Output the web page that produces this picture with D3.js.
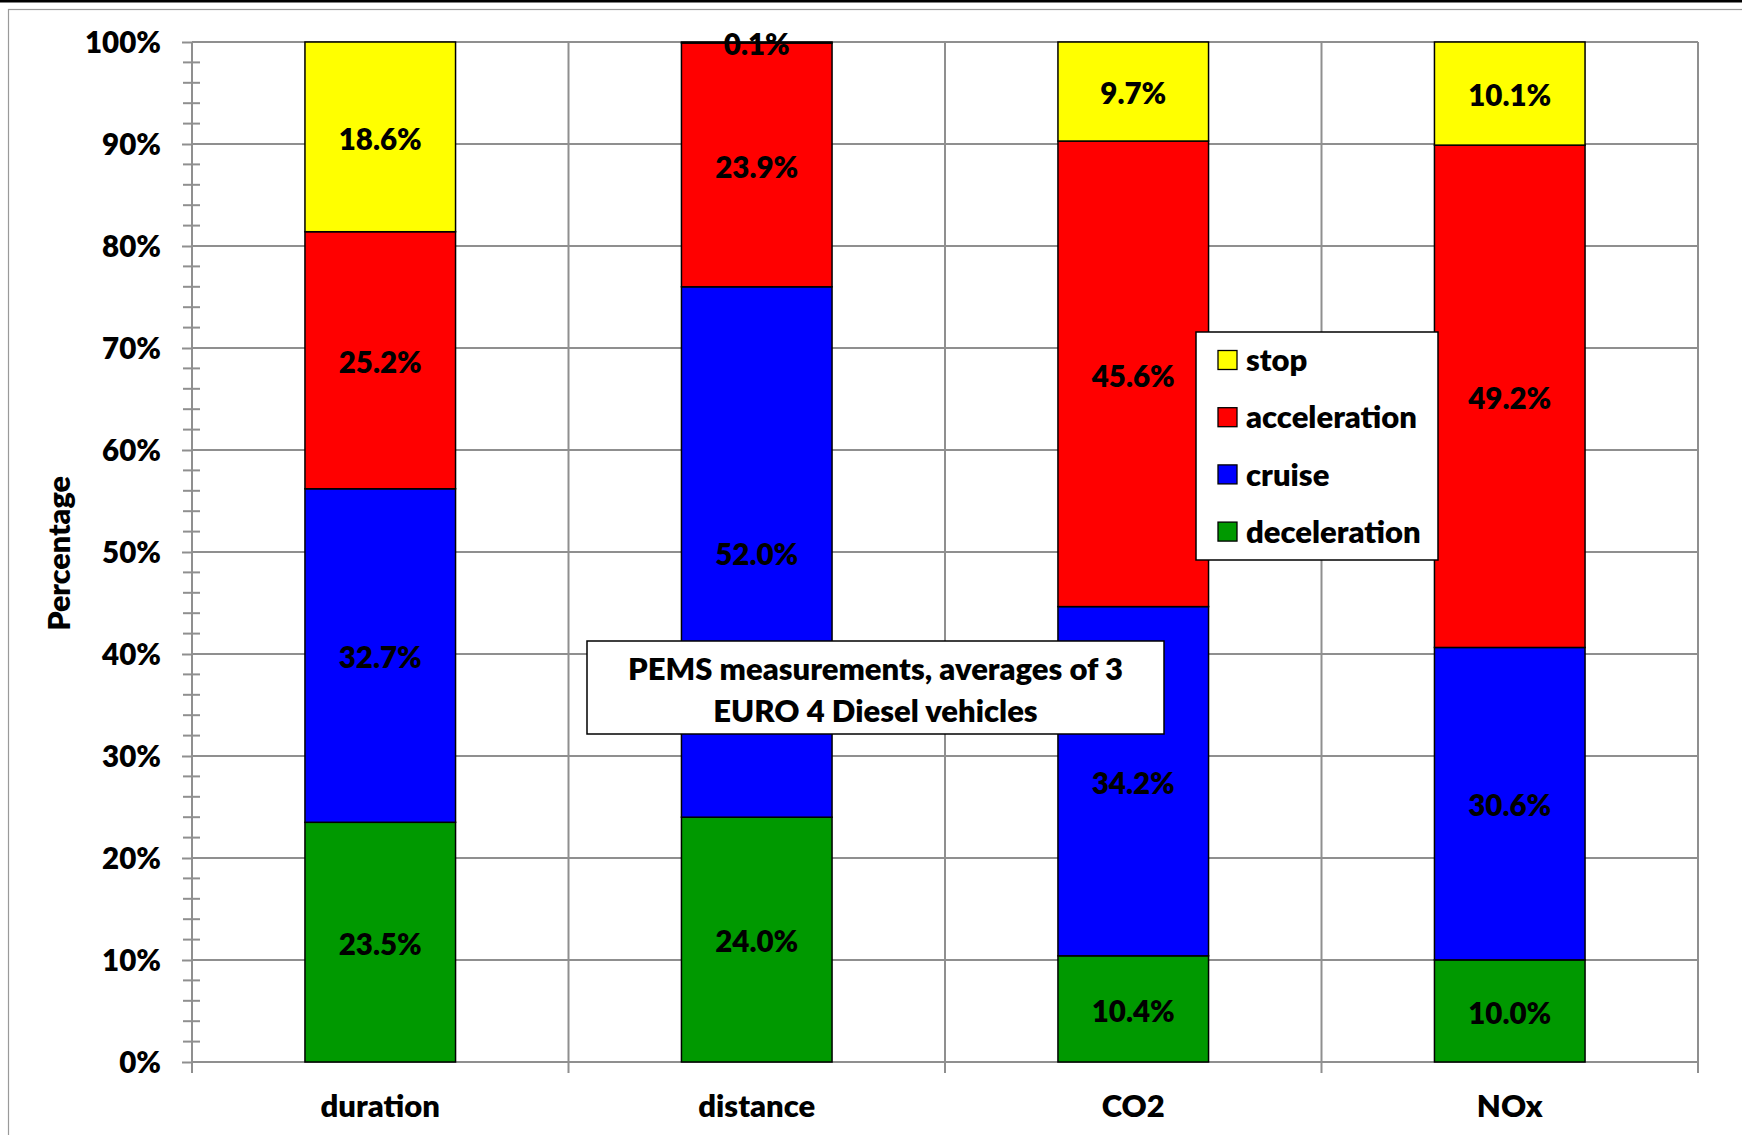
<!DOCTYPE html>
<html>
<head>
<meta charset="utf-8">
<script src="https://cdn.jsdelivr.net/npm/d3@7"></script>
<style>
  html, body { margin: 0; padding: 0; background: #fff; }
  svg { display: block; }
  text { font-family: Lato, "Open Sans", sans-serif; font-weight: 800; fill: #000; }
</style>
</head>
<body>
<svg id="chart" width="1742" height="1135"></svg>
<script>
// Share of each driving mode (percent) per quantity
const categories = ["duration", "distance", "CO2", "NOx"];
const modes = ["deceleration", "cruise", "acceleration", "stop"]; // bottom to top
const deceleration = [23.5, 24.0, 10.4, 10.0];
const cruise = [32.7, 52.0, 34.2, 30.6];
const acceleration = [25.2, 23.9, 45.6, 49.2];
const stop = [18.6, 0.1, 9.7, 10.1];
const legendOrder = ["stop", "acceleration", "cruise", "deceleration"];
const yTickValues = [0, 0.1, 0.2, 0.3, 0.4, 0.5, 0.6, 0.7, 0.8, 0.9, 1.0];
const noteLines = ["PEMS measurements, averages of 3", "EURO 4 Diesel vehicles"];

const modeValues = { deceleration, cruise, acceleration, stop };
const colors = { stop: "#ffff00", acceleration: "#ff0000", cruise: "#0000ff", deceleration: "#009900" };

const rows = categories.map((c, i) => {
  const r = { category: c };
  modes.forEach(m => r[m] = modeValues[m][i]);
  return r;
});

const svg = d3.select("#chart");
const plot = { left: 192, right: 1698, top: 42, bottom: 1062 };
const gridColor = "#8f8f8f";
const FW = 800;

// Outer frame
svg.append("rect").attr("x", 0).attr("y", 0).attr("width", 1742).attr("height", 2.5).attr("fill", "#000");
svg.append("rect").attr("x", 8.5).attr("y", 9.5).attr("width", 1760).attr("height", 1160)
  .attr("fill", "none").attr("stroke", "#9a9a9a").attr("stroke-width", 1.2);

const x = d3.scaleBand().domain(categories).range([plot.left, plot.right])
  .paddingInner(0.6).paddingOuter(0.3);
const y = d3.scaleLinear().domain([0, 1]).range([plot.bottom, plot.top]);

const stack = d3.stack().keys(modes).offset(d3.stackOffsetExpand);
const series = stack(rows);

// Horizontal gridlines
svg.append("g").selectAll("line").data(yTickValues.filter(v => v > 0)).join("line")
  .attr("x1", plot.left).attr("x2", plot.right)
  .attr("y1", d => y(d)).attr("y2", d => y(d))
  .attr("stroke", gridColor).attr("stroke-width", 2);

// Vertical gridlines at category boundaries
const boundaries = categories.map(c => x(c) - x.paddingOuter() * x.step()).concat([plot.right]);
svg.append("g").selectAll("line").data(boundaries.slice(1)).join("line")
  .attr("x1", d => d).attr("x2", d => d)
  .attr("y1", plot.top).attr("y2", plot.bottom)
  .attr("stroke", gridColor).attr("stroke-width", 2);

// Minor ticks every 2% crossing the value axis
const minorTicks = d3.range(0, 101, 2).map(v => v / 100).filter(v => Math.round(v * 100) % 10 !== 0);
svg.append("g").selectAll("line").data(minorTicks).join("line")
  .attr("x1", plot.left - 9).attr("x2", plot.left + 8)
  .attr("y1", d => y(d)).attr("y2", d => y(d))
  .attr("stroke", gridColor).attr("stroke-width", 2);

// Value axis
const yAxis = svg.append("g").attr("transform", `translate(${plot.left},0)`)
  .call(d3.axisLeft(y).tickValues(yTickValues).tickFormat(d3.format(".0%")).tickSize(10).tickPadding(21));
yAxis.select(".domain").attr("stroke", gridColor).attr("stroke-width", 2).attr("d", `M0,${plot.top}V${plot.bottom}`);
yAxis.selectAll(".tick line").attr("stroke", gridColor).attr("stroke-width", 2);
yAxis.selectAll(".tick text").attr("font-size", 29.5).attr("font-family", "Lato").attr("font-weight", FW)
  .attr("fill", "#000").attr("dy", "0.36em");

// Category axis
svg.append("line").attr("x1", plot.left).attr("x2", plot.right)
  .attr("y1", plot.bottom).attr("y2", plot.bottom)
  .attr("stroke", gridColor).attr("stroke-width", 2);
svg.append("g").selectAll("line").data(boundaries).join("line")
  .attr("x1", d => d).attr("x2", d => d)
  .attr("y1", plot.bottom).attr("y2", plot.bottom + 11)
  .attr("stroke", gridColor).attr("stroke-width", 2);
svg.append("g").selectAll("text").data(categories).join("text")
  .attr("x", d => x(d) + x.bandwidth() / 2).attr("y", 1117)
  .attr("text-anchor", "middle").attr("font-size", 31).text(d => d);

// Stacked bars
const layers = svg.append("g").selectAll("g").data(series).join("g")
  .attr("fill", d => colors[d.key]);
layers.selectAll("rect").data(d => d).join("rect")
  .attr("x", d => x(d.data.category)).attr("width", x.bandwidth())
  .attr("y", d => y(d[1])).attr("height", d => y(d[0]) - y(d[1]))
  .attr("stroke", "#000").attr("stroke-width", 1.5);

// Segment value labels
const fmt = d3.format(".1f");
series.forEach(s => {
  svg.append("g").selectAll("text").data(s).join("text")
    .attr("x", d => x(d.data.category) + x.bandwidth() / 2)
    .attr("y", d => (y(d[0]) + y(d[1])) / 2)
    .attr("dy", "0.43em").attr("text-anchor", "middle").attr("font-size", 29.5)
    .text(d => fmt(d.data[s.key]) + "%");
});

// Axis title
svg.append("text").attr("transform", "translate(70,553.5) rotate(-90)")
  .attr("text-anchor", "middle").attr("font-size", 30.5).text("Percentage");

// Legend
const legend = svg.append("g");
legend.append("rect").attr("x", 1196).attr("y", 332).attr("width", 242).attr("height", 228)
  .attr("fill", "#fff").attr("stroke", "#000").attr("stroke-width", 1.5);
const items = legend.selectAll("g.item").data(legendOrder).join("g").attr("class", "item")
  .attr("transform", (d, i) => `translate(1218,${360 + i * 57.2})`);
items.append("rect").attr("x", 0).attr("y", -9.5).attr("width", 19).attr("height", 19)
  .attr("fill", d => colors[d]).attr("stroke", "#000").attr("stroke-width", 1.3);
items.append("text").attr("x", 28).attr("dy", "0.36em").attr("font-size", 31).text(d => d);

// Note box
const note = svg.append("g");
note.append("rect").attr("x", 587).attr("y", 641).attr("width", 577).attr("height", 93)
  .attr("fill", "#fff").attr("stroke", "#000").attr("stroke-width", 1.5);
note.selectAll("text").data(noteLines).join("text")
  .attr("x", 875.5).attr("y", (d, i) => 680 + i * 42)
  .attr("text-anchor", "middle").attr("font-size", 31).text(d => d);
</script>
</body>
</html>
